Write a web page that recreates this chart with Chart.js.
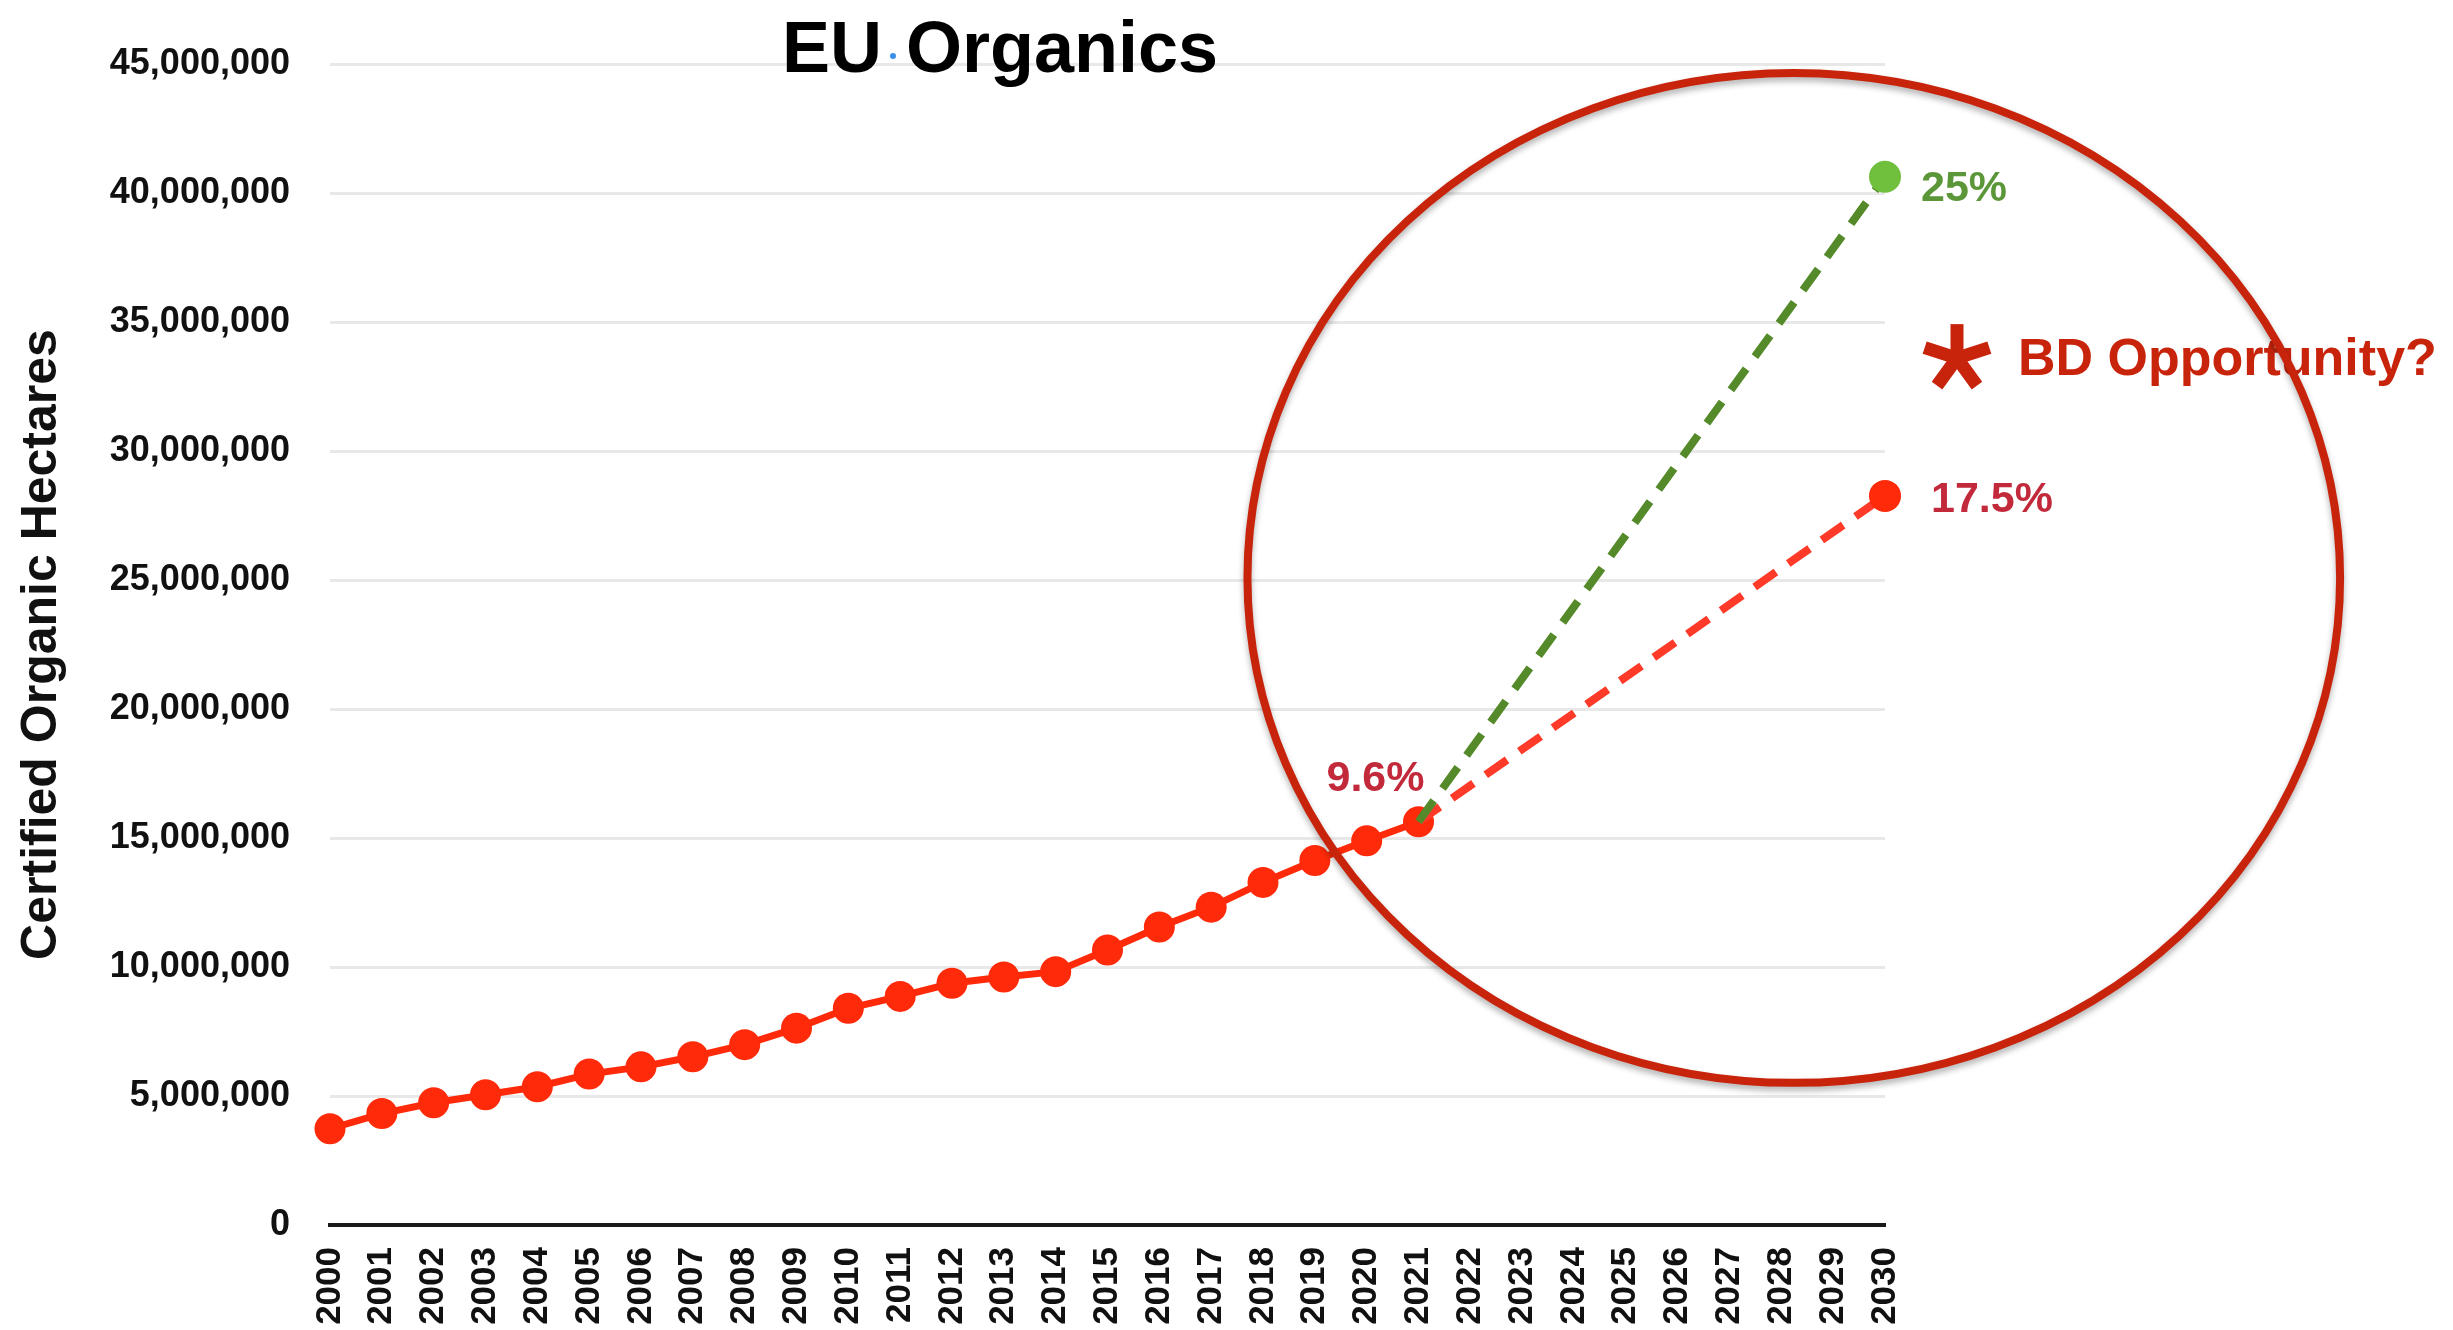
<!DOCTYPE html>
<html>
<head>
<meta charset="utf-8">
<title>EU Organics</title>
<script src="https://cdn.jsdelivr.net/npm/chart.js@4.4.0/dist/chart.umd.min.js"></script>
<style>
  html, body { margin: 0; padding: 0; background: #fff; }
  canvas { display: block; }
</style>
</head>
<body>
<canvas id="myChart" width="2453" height="1330"></canvas>
<script>
// anos no eixo x
const years = ['2000', '2001', '2002', '2003', '2004', '2005', '2006', '2007', '2008', '2009',
  '2010', '2011', '2012', '2013', '2014', '2015', '2016', '2017', '2018', '2019',
  '2020', '2021', '2022', '2023', '2024', '2025', '2026', '2027', '2028', '2029', '2030'];

// hectares certificados (2000-2021)
const actualHa = [3730000, 4320000, 4740000, 5050000, 5360000, 5850000, 6130000, 6520000,
  6990000, 7630000, 8400000, 8860000, 9370000, 9610000, 9820000, 10660000, 11550000,
  12320000, 13280000, 14130000, 14890000, 15630000];

// projeções até 2030
const target25 = [{ x: '2021', y: 15630000 }, { x: '2030', y: 40630000 }];
const target175 = [{ x: '2021', y: 15630000 }, { x: '2030', y: 28260000 }];

const yTicks = [0, 5000000, 10000000, 15000000, 20000000, 25000000, 30000000, 35000000, 40000000, 45000000];

const FONT = '"Liberation Sans", Arial, Helvetica, sans-serif';
Chart.defaults.font.family = FONT;

const extras = {
    id: 'extras',
    afterDraw(chart) {
        const { ctx, scales: { x, y } } = chart;
        ctx.save();

        // titulo
        ctx.fillStyle = '#000';
        ctx.font = 'bold 72px ' + FONT;
        ctx.textAlign = 'left';
        ctx.textBaseline = 'alphabetic';
        ctx.fillText('EU', 782, 72);
        ctx.fillText('Organics', 906, 72);
        ctx.fillStyle = '#3a8ee6';
        ctx.beginPath();
        ctx.arc(893, 56, 3, 0, Math.PI * 2);
        ctx.fill();

        // rótulos das porcentagens
        const x21 = x.getPixelForValue(21), x30 = x.getPixelForValue(30);
        ctx.textBaseline = 'middle';
        ctx.font = 'bold 43px ' + FONT;
        ctx.fillStyle = '#5b9638';
        ctx.fillText('25%', x30 + 36, y.getPixelForValue(target25[1].y) + 12);
        ctx.fillStyle = '#c22a3c';
        ctx.fillText('17.5%', x30 + 46, y.getPixelForValue(target175[1].y) + 4);
        ctx.textAlign = 'right';
        ctx.fillText('9.6%', x21 + 6, y.getPixelForValue(actualHa[21]) - 43);

        // asterisco + texto
        const ax = x30 + 72, ay = y.getPixelForValue(33600000);
        ctx.strokeStyle = '#c8240c';
        ctx.lineWidth = 13;
        ctx.lineCap = 'butt';
        for (let i = 0; i < 5; i++) {
            const a = -Math.PI / 2 + i * 2 * Math.PI / 5;
            ctx.beginPath();
            ctx.moveTo(ax, ay);
            ctx.lineTo(ax + Math.cos(a) * 34, ay + Math.sin(a) * 34);
            ctx.stroke();
        }
        ctx.fillStyle = '#c8240c';
        ctx.textAlign = 'left';
        ctx.font = 'bold 52px ' + FONT;
        ctx.fillText('BD Opportunity?', x30 + 133, ay + 3);

        // elipse
        const cx = x.getPixelForValue(28.24);
        const cy = y.getPixelForValue(25080000);
        const rx = x.getPixelForValue(10.54) - x.getPixelForValue(0);
        const ry = y.getPixelForValue(0) - y.getPixelForValue(19570000);
        ctx.shadowColor = 'rgba(0,0,0,0.3)';
        ctx.shadowBlur = 6;
        ctx.shadowOffsetY = 4;
        ctx.lineWidth = 8;
        ctx.beginPath();
        ctx.ellipse(cx, cy, rx, ry, 0, 0, Math.PI * 2);
        ctx.stroke();

        ctx.restore();
    }
};

new Chart(document.getElementById('myChart'), {
    type: 'line',
    data: {
        labels: years,
        datasets: [{
            data: target25,
            borderColor: 'rgb(84, 138, 42)',
            backgroundColor: 'rgb(112, 192, 62)',
            borderWidth: 8,
            borderDash: [26, 15],
            pointRadius: ctx => ctx.dataIndex === 1 ? 16 : 0,
            pointBorderWidth: 0,
            clip: false,
            order: 0
        }, {
            data: target175,
            borderColor: 'rgb(255, 58, 40)',
            backgroundColor: 'rgb(255, 42, 10)',
            borderWidth: 8,
            borderDash: [26, 15],
            pointRadius: ctx => ctx.dataIndex === 1 ? 16 : 0,
            pointBorderWidth: 0,
            clip: false,
            order: 1
        }, {
            data: actualHa,
            borderColor: 'rgb(255, 42, 10)',
            backgroundColor: 'rgb(255, 42, 10)',
            borderWidth: 7,
            pointRadius: 15.5,
            pointBorderWidth: 0,
            clip: false,
            order: 2
        }]
    },
    options: {
        responsive: false,
        animation: false,
        devicePixelRatio: 1,
        layout: { padding: { left: 0, right: 568, top: 64, bottom: 0 } },
        plugins: { legend: { display: false }, tooltip: { enabled: false } },
        scales: {
            x: {
                grid: { display: false, drawTicks: false },
                border: { display: true, color: '#1a1a1a', width: 4 },
                ticks: {
                    autoSkip: false, minRotation: 90, maxRotation: 90, padding: 22,
                    color: '#111', font: { size: 35, weight: 'bold' }
                },
                afterFit(scale) { scale.height = 105; }
            },
            y: {
                min: 0, max: 45000000,
                afterBuildTicks(scale) { scale.ticks = yTicks.map(v => ({ value: v })); },
                grid: { color: '#e8e8e8', lineWidth: 3, drawTicks: false },
                border: { display: false },
                ticks: {
                    padding: 40, color: '#111', font: { size: 36, weight: 'bold' },
                    callback: v => v.toLocaleString('en-US')
                },
                title: {
                    display: true, text: 'Certified Organic Hectares', color: '#111',
                    font: { size: 50, weight: 'bold' }, padding: { top: 12, bottom: 0 }
                },
                afterFit(scale) { scale.width = 330; }
            }
        }
    },
    plugins: [extras]
});
</script>
</body>
</html>
